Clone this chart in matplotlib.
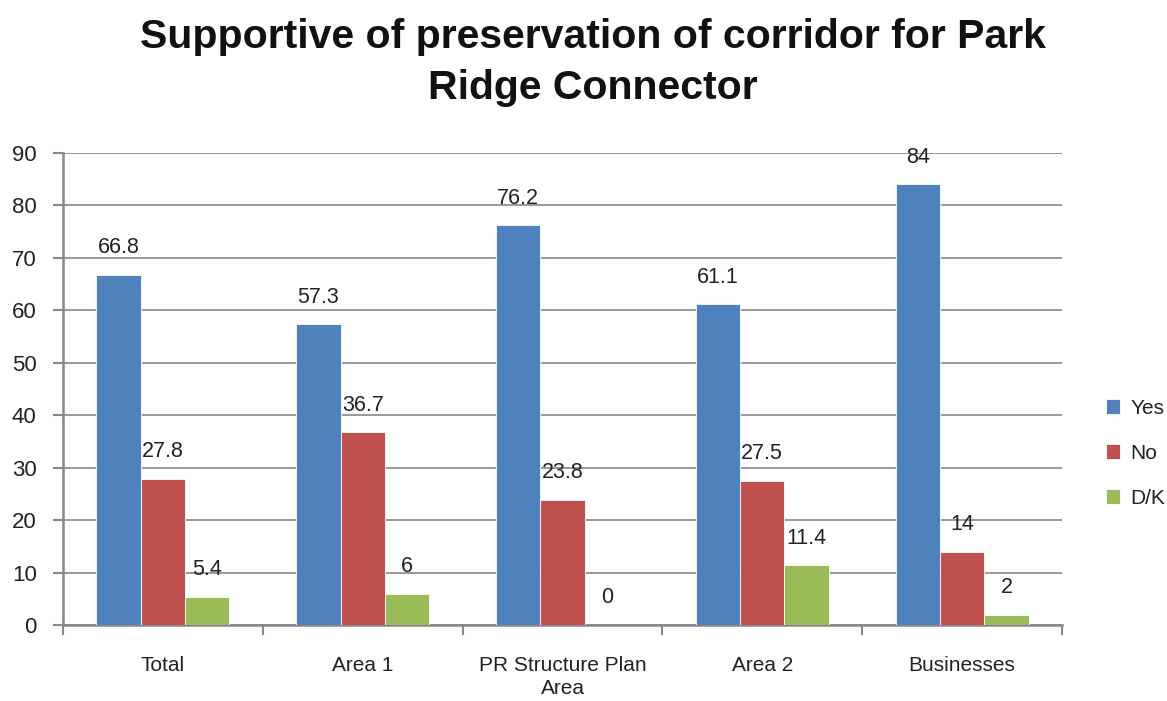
import matplotlib
matplotlib.use("Agg")
import matplotlib.pyplot as plt
import numpy as np

categories = ["Total", "Area 1", "PR Structure Plan\nArea", "Area 2", "Businesses"]
yes_vals = [66.8, 57.3, 76.2, 61.1, 84]
no_vals = [27.8, 36.7, 23.8, 27.5, 14]
dk_vals = [5.4, 6, 0, 11.4, 2]
series_names = ["Yes", "No", "D/K"]
colors = ["#4F81BD", "#C0504D", "#9BBB59"]
title = "Supportive of preservation of corridor for Park\nRidge Connector"
yticks = [0, 10, 20, 30, 40, 50, 60, 70, 80, 90]

plt.rcParams['font.family'] = ['Liberation Sans', 'DejaVu Sans']

fig = plt.figure(figsize=(11.67, 7.01), dpi=100)
ax = fig.add_axes([0.054, 0.1084, 0.856, 0.6736])

x = np.arange(len(categories))
w = 0.222
series = [yes_vals, no_vals, dk_vals]
for i, (vals, name, c) in enumerate(zip(series, series_names, colors)):
    pos = x + (i - 1) * w
    bars = ax.bar(pos, vals, width=w, color=c, label=name, zorder=3,
                  edgecolor="white", linewidth=0.6)
    for b, v in zip(bars, vals):
        ax.annotate(f"{v:g}", (b.get_x() + b.get_width() / 2, v),
                    xytext=(0, 12), textcoords="offset points",
                    ha="center", va="bottom", fontsize=15.5, color="#222222", zorder=4)

ax.set_xlim(-0.5, len(categories) - 0.5)
ax.set_ylim(0, 90)
ax.set_yticks(yticks)
ax.yaxis.grid(True, color="#888888", linewidth=1.2, zorder=0)
ax.set_axisbelow(True)

ax.set_xticks(np.arange(-0.5, len(categories), 1.0))
ax.set_xticklabels([])
ax.set_xticks(x, minor=True)
ax.set_xticklabels(categories, minor=True, fontsize=15, color="#222222", linespacing=1.3)
ax.tick_params(axis="x", which="minor", length=0, pad=22)
ax.tick_params(axis="x", which="major", length=7, width=1.5, color="#888888", direction="out")
ax.tick_params(axis="y", length=7, width=1.5, color="#888888", labelsize=16, labelcolor="#222222", pad=12)

for s in ["top", "right"]:
    ax.spines[s].set_visible(False)
for s in ["left", "bottom"]:
    ax.spines[s].set_color("#888888")
    ax.spines[s].set_linewidth(1.8)

fig.text(0.508, 0.975, title, ha="center", va="top", fontsize=29.5, fontweight="bold",
         color="#111111", linespacing=1.45)

leg = ax.legend(loc="center left", bbox_to_anchor=(1.025, 0.364), frameon=False,
                fontsize=15, handlelength=0.7, handleheight=0.7, labelspacing=1.25,
                handletextpad=0.5)
for t in leg.get_texts():
    t.set_color("#222222")

fig.savefig("out.png", dpi=100)
